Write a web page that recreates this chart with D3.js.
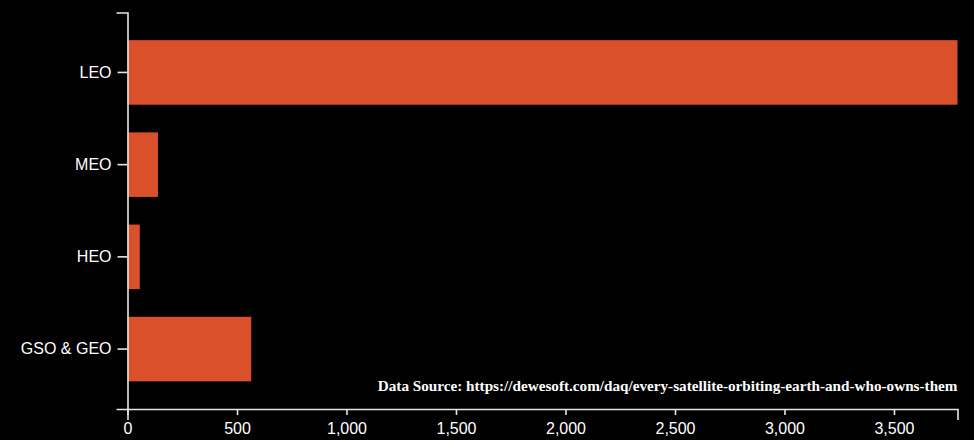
<!DOCTYPE html>
<html>
<head>
<meta charset="utf-8">
<script src="https://cdn.jsdelivr.net/npm/d3@7"></script>
<style>
  html, body { margin: 0; padding: 0; background: #000; }
  svg { display: block; background: #000; }
  .axis text { fill: #fff; font-family: "Liberation Sans", Arial, sans-serif; font-size: 16px; }
  .axis path, .axis line { stroke: #e6e6e6; stroke-width: 1.6px; }
  .source { fill: #fff; font-family: "Liberation Serif", "Times New Roman", serif; font-size: 15.2px; font-weight: bold; }
</style>
</head>
<body>
<svg id="chart" width="974" height="440"></svg>
<script>
// Active satellites by orbit class
const orbits = ["LEO", "MEO", "HEO", "GSO & GEO"];
const satelliteCounts = [3790, 139, 56, 565];
const xTicks = [0, 500, 1000, 1500, 2000, 2500, 3000, 3500];
const sourceNote = "Data Source: https://dewesoft.com/daq/every-satellite-orbiting-earth-and-who-owns-them";

const width = 974, height = 440;
const margin = { top: 12.5, right: 16.5, bottom: 31, left: 127.5 };

const svg = d3.select("#chart");
const g = svg.append("g").attr("transform", `translate(${margin.left},${margin.top})`);
const innerW = width - margin.left - margin.right;
const innerH = height - margin.top - margin.bottom;

const x = d3.scaleLinear()
  .domain([0, d3.max(satelliteCounts)])
  .range([0, innerW]);

const y = d3.scaleBand()
  .domain(orbits)
  .range([0, innerH])
  .padding(0.3);

const rows = orbits.map((o, i) => ({ orbit: o, count: satelliteCounts[i] }));

g.selectAll("rect.bar")
  .data(rows)
  .join("rect")
  .attr("class", "bar")
  .attr("x", x(0))
  .attr("y", d => y(d.orbit))
  .attr("width", d => x(d.count) - x(0))
  .attr("height", y.bandwidth())
  .attr("fill", "#d9502a");

// y axis
g.append("g")
  .attr("class", "axis")
  .call(d3.axisLeft(y).tickSizeInner(10).tickSizeOuter(11).tickPadding(6));

// x axis
g.append("g")
  .attr("class", "axis")
  .attr("transform", `translate(0,${innerH})`)
  .call(d3.axisBottom(x).tickValues(xTicks).tickFormat(d3.format(",")).tickSizeInner(6).tickSizeOuter(11).tickPadding(8));

// source note
g.append("text")
  .attr("class", "source")
  .attr("x", innerW)
  .attr("y", innerH - 18)
  .attr("text-anchor", "end")
  .text(sourceNote);
</script>
</body>
</html>
